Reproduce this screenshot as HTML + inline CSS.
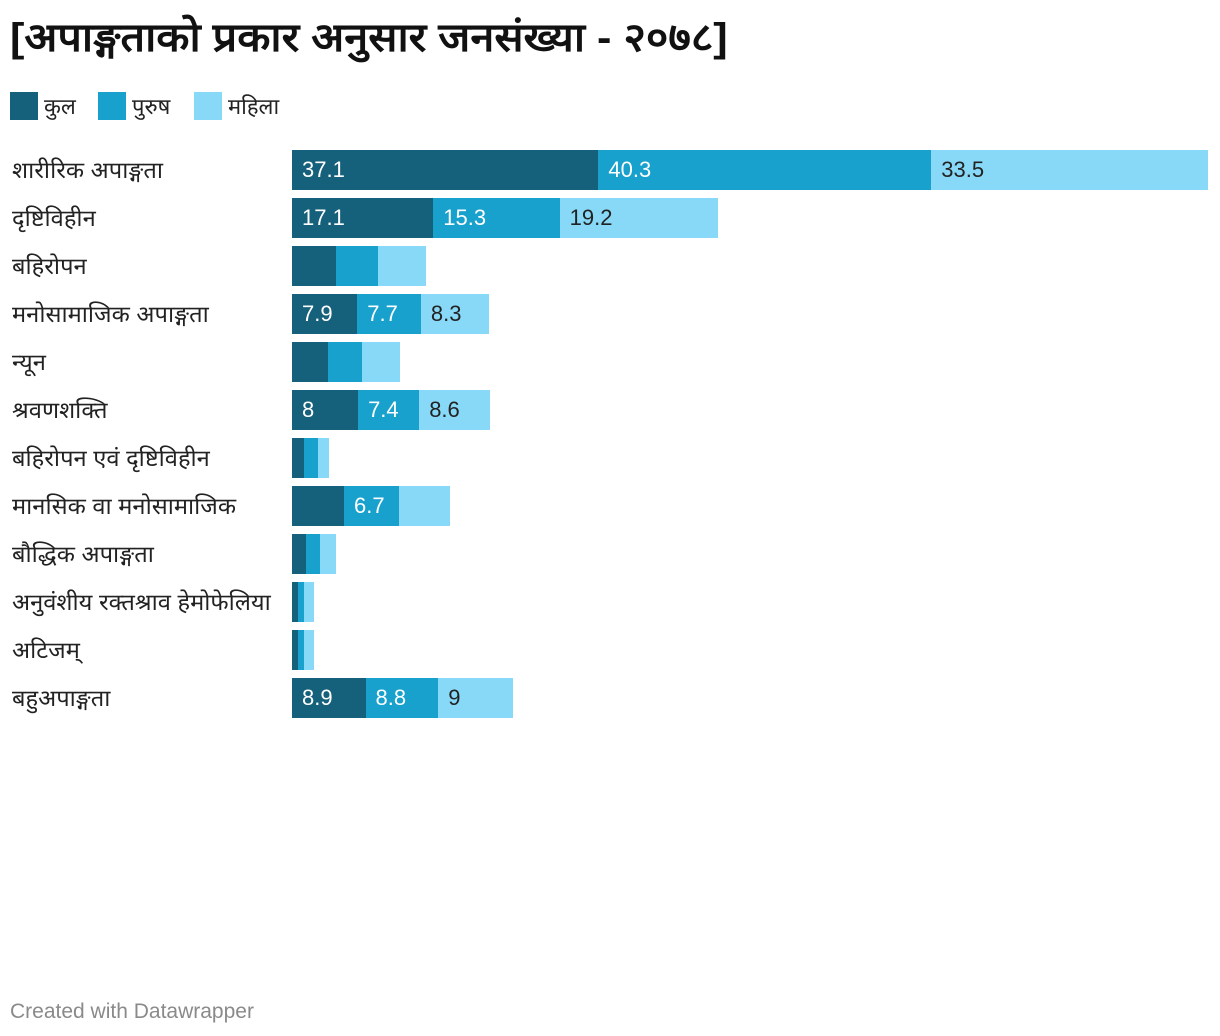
<!DOCTYPE html>
<html><head><meta charset="utf-8">
<style>
body{margin:0;width:1220px;height:1036px;background:#fff;font-family:"Liberation Sans",sans-serif;position:relative;overflow:hidden}
#title{position:absolute;left:10px;top:8px;font-size:40px;font-weight:bold;color:#111;white-space:nowrap;transform:scaleX(1.08);transform-origin:left top}
.leg{position:absolute;top:92px;height:28px;display:flex;align-items:center;font-size:22px;color:#222}
.sw{width:28px;height:28px;margin-right:6px}
.lab{position:absolute;left:12px;font-size:23px;color:#222;white-space:nowrap;line-height:40px;height:40px;transform:scaleX(1.03);transform-origin:left center}
.seg{position:absolute;height:40px;font-size:22px;line-height:40px;box-sizing:border-box;padding-left:10px;white-space:nowrap;overflow:hidden}
#foot{position:absolute;left:10px;top:1000px;font-size:21px;color:#8a8a8a}
</style></head><body>
<div id="title">[अपाङ्गताको प्रकार अनुसार जनसंख्या - २०७८]</div>
<div class="leg" style="left:10px"><div class="sw" style="background:#15607a"></div>कुल</div>
<div class="leg" style="left:98px"><div class="sw" style="background:#18a1cd"></div>पुरुष</div>
<div class="leg" style="left:194px"><div class="sw" style="background:#88d9f8"></div>महिला</div>
<div id="chart"></div>
<div id="foot">Created with Datawrapper</div>
<script>
const categories=["शारीरिक अपाङ्गता","दृष्टिविहीन","बहिरोपन","मनोसामाजिक अपाङ्गता","न्यून","श्रवणशक्ति","बहिरोपन एवं दृष्टिविहीन","मानसिक वा मनोसामाजिक","बौद्धिक अपाङ्गता","अनुवंशीय रक्तश्राव हेमोफेलिया","अटिजम्","बहुअपाङ्गता"];
const kul=[37.1,17.1,5.3,7.9,4.4,8,1.5,6.3,1.7,0.7,0.7,8.9];
const purush=[40.3,15.3,5.1,7.7,4.1,7.4,1.6,6.7,1.7,0.7,0.7,8.8];
const mahila=[33.5,19.2,5.8,8.3,4.6,8.6,1.4,6.1,1.9,1.0,0.6,9];
const seriesNames=["kul","purush","mahila"];
const colors=["#15607a","#18a1cd","#88d9f8"];
const textColors=["#fff","#fff","#222"];
const x0=292,maxTotal=110.9,plotW=916;
function xs(v){return v/maxTotal*plotW;}
function ys(i){return 150+i*48;}
const chart=document.getElementById('chart');
const series=[kul,purush,mahila];
categories.forEach((c,i)=>{
  const l=document.createElement('div');l.className='lab';l.style.top=ys(i)+'px';l.textContent=c;
  
  
  chart.appendChild(l);
  let acc=0;
  series.forEach((s,k)=>{
    const d=document.createElement('div');d.className='seg';
    d.style.left=(x0+xs(acc))+'px';d.style.top=ys(i)+'px';d.style.width=xs(s[i])+'px';
    d.style.background=colors[k];d.style.color=textColors[k];
    if(s[i]>=6.5)d.textContent=String(s[i]);
    
    
    chart.appendChild(d);acc+=s[i];
  });
});
</script>
</body></html>
